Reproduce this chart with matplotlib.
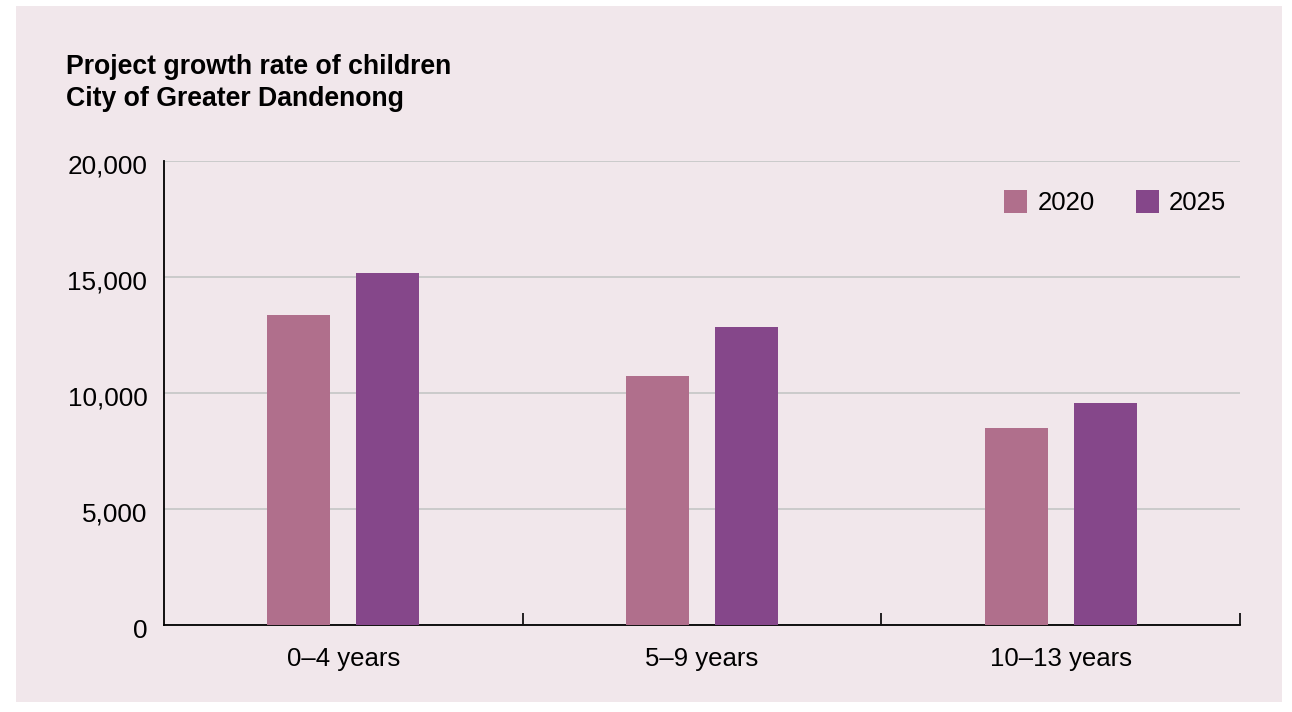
import numpy as np
import matplotlib.pyplot as plt
import matplotlib.transforms as mtransforms
from matplotlib.patches import Rectangle
from matplotlib.ticker import FuncFormatter, FixedLocator

plt.rcParams['font.family'] = ['Liberation Sans', 'DejaVu Sans']

# data
categories = ["0\u20134 years", "5\u20139 years", "10\u201313 years"]
years = ["2020", "2025"]
values_2020 = [13350, 10730, 8480]
values_2025 = [15180, 12840, 9560]
colors = ["#b06f8c", "#85478a"]

bg = "#f1e7eb"
W, H = 1292, 712
fig = plt.figure(figsize=(W / 100, H / 100), dpi=100, facecolor="white")
# pink panel behind everything
fig.patches.append(Rectangle((16 / W, 10 / H), (1282 - 16) / W, (706 - 10) / H,
                             transform=fig.transFigure, facecolor=bg, edgecolor="none", zorder=-10))

ax = fig.add_axes([164 / W, (H - 625) / H, (1240 - 164) / W, (625 - 161) / H])
ax.set_facecolor(bg)
ax.patch.set_alpha(0)

x = np.arange(len(categories))
w = 0.176
off = 0.124
ax.bar(x - off, values_2020, w, color=colors[0], label=years[0], zorder=3)
ax.bar(x + off, values_2025, w, color=colors[1], label=years[1], zorder=3)

ax.set_xlim(-0.5, len(categories) - 0.5)
ax.set_ylim(0, 20000)
ax.set_yticks([0, 5000, 10000, 15000, 20000])
ax.yaxis.set_major_formatter(FuncFormatter(lambda v, p: f"{int(v):,}"))
ax.grid(axis="y", color="#c8c8c8", linewidth=1.3, zorder=1)
ax.tick_params(axis="y", length=0, pad=12, labelsize=18.8)
# nudge the y labels down a touch
shift = mtransforms.ScaledTranslation(0, -3 / 100, fig.dpi_scale_trans)
for lab in ax.get_yticklabels():
    lab.set_transform(lab.get_transform() + shift)

ax.set_xticks(x)
ax.set_xticklabels(categories)
ax.tick_params(axis="x", which="major", length=0, pad=16, labelsize=18.5)
ax.xaxis.set_minor_locator(FixedLocator(np.arange(len(categories)) + 0.5))
ax.tick_params(axis="x", which="minor", direction="in", length=9, width=1.2, color="black")

for s in ["top", "right"]:
    ax.spines[s].set_visible(False)
ax.spines["left"].set_linewidth(1.3)
ax.spines["bottom"].set_linewidth(1.3)

ax.legend(loc="upper right", bbox_to_anchor=(0.997, 0.96), frameon=False, ncol=2,
          fontsize=18.5, handlelength=0.9, handleheight=1.0, handletextpad=0.4,
          columnspacing=1.6, borderaxespad=0)

fig.text(66 / W, 1 - 74 / H, "Project growth rate of children", fontsize=19.2,
         fontweight="bold", va="baseline", ha="left")
fig.text(66 / W, 1 - 106 / H, "City of Greater Dandenong", fontsize=19.2,
         fontweight="bold", va="baseline", ha="left")

fig.savefig("out.png", dpi=100, facecolor="white")
